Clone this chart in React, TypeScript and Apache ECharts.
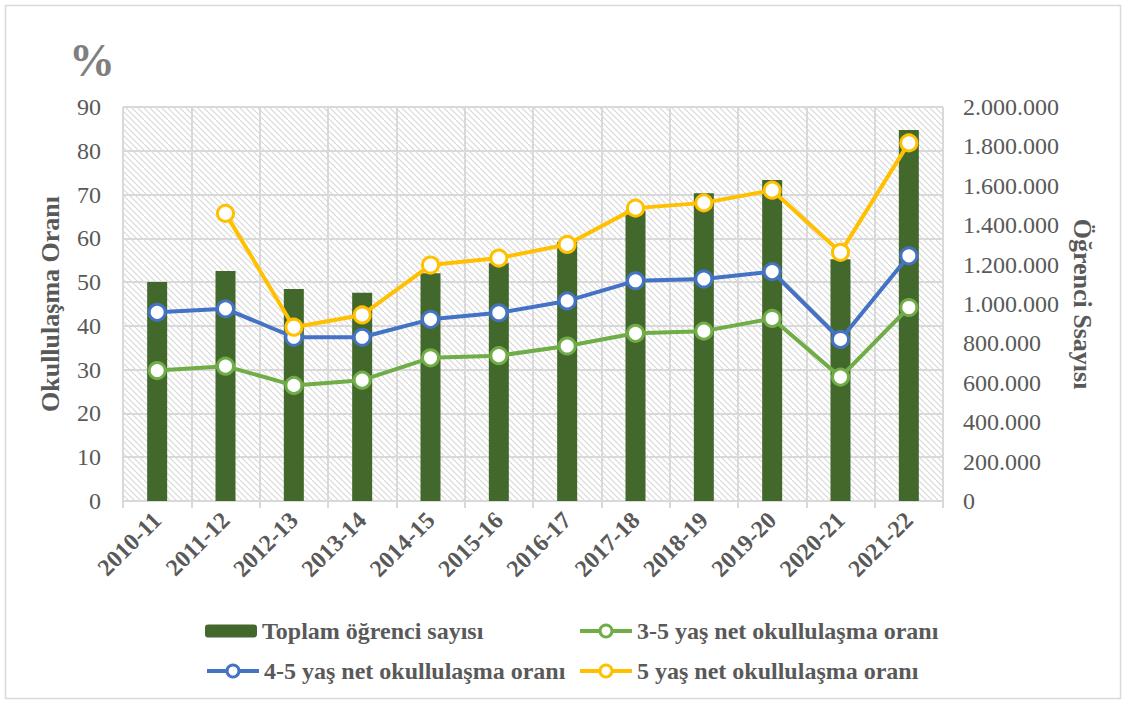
import React, { useEffect, useRef } from "react";
import * as echarts from "echarts";

const categories = ["2010-11", "2011-12", "2012-13", "2013-14", "2014-15", "2015-16", "2016-17", "2017-18", "2018-19", "2019-20", "2020-21", "2021-22"];
const toplamOgrenci = [1112000, 1168000, 1076000, 1057000, 1156000, 1207000, 1316000, 1475000, 1562000, 1629000, 1227000, 1883000];
const oran35 = [29.8, 30.8, 26.4, 27.6, 32.7, 33.2, 35.4, 38.3, 38.8, 41.7, 28.3, 44.2];
const oran45 = [43.1, 43.9, 37.4, 37.4, 41.5, 43.0, 45.7, 50.3, 50.7, 52.4, 36.9, 56.0];
const oran5: (number | null)[] = [null, 65.7, 39.7, 42.5, 53.9, 55.5, 58.6, 66.9, 68.1, 71.0, 56.8, 81.8];

const leftTicks = { min: 0, max: 90, interval: 10 };
const rightTicks = { min: 0, max: 2000000, interval: 200000 };

const SERIF = "'Liberation Serif', 'Times New Roman', serif";
const GREY = "#595959";
const GRID = "#d9d9d9";

function makePattern() {
  const s = 6;
  const c = document.createElement("canvas");
  c.width = s;
  c.height = s;
  const ctx = c.getContext("2d")!;
  ctx.fillStyle = "#ffffff";
  ctx.fillRect(0, 0, s, s);
  ctx.strokeStyle = "#d6d6d6";
  ctx.lineWidth = 1.1;
  for (const o of [-s, 0, s]) {
    ctx.beginPath();
    ctx.moveTo(o, 0);
    ctx.lineTo(o + s, s);
    ctx.stroke();
  }
  return c;
}

function fmtDots(v: number) {
  return String(Math.round(v)).replace(/\B(?=(\d{3})+(?!\d))/g, ".");
}

export default function App() {
  const ref = useRef<HTMLDivElement>(null);
  useEffect(() => {
    document.body.style.margin = "0";
    const chart = echarts.init(ref.current!, undefined, { renderer: "svg" });
    const lineSeries = (name: string, data: (number | null)[], color: string) => ({
      name,
      type: "line",
      yAxisIndex: 0,
      data,
      color,
      symbol: "circle",
      symbolSize: 16,
      showAllSymbol: true,
      lineStyle: { color, width: 4 },
      itemStyle: { color: "#ffffff", borderColor: color, borderWidth: 3 },
      z: 3,
    });
    const legendText = { fontFamily: SERIF, fontWeight: "bold" as const, fontSize: 24, color: GREY };
    const legend = (name: string, left: number, top: number, h: number, isLine: boolean) => ({
      data: [name],
      left,
      top,
      itemWidth: 52,
      itemHeight: h,
      itemGap: 0,
      selectedMode: false,
      textStyle: legendText,
      ...(isLine
        ? { lineStyle: { width: 4 }, itemStyle: { borderWidth: 3 } }
        : {}),
    });
    const option = {
      animation: false,
      backgroundColor: "#ffffff",
      grid: {
        left: 123,
        right: 183,
        top: 107,
        bottom: 203,
        show: true,
        borderWidth: 0,
        backgroundColor: { image: makePattern(), repeat: "repeat" },
      },
      legend: [
        legend("Toplam öğrenci sayısı", 200, 614, 13, false),
        legend("3-5 yaş net okullulaşma oranı", 573, 614, 15, true),
        legend("4-5 yaş net okullulaşma oranı", 200, 654, 15, true),
        legend("5 yaş net okullulaşma oranı", 573, 654, 15, true),
      ],
      graphic: [
        {
          type: "rect",
          shape: { x: 5.5, y: 5.5, width: 1115, height: 693 },
          style: { fill: "none", stroke: GRID, lineWidth: 1.5 },
          silent: true,
        },
        {
          type: "text",
          left: 69,
          top: 37,
          style: { text: "%", font: `bold 46px ${SERIF}`, fill: "#7f7f7f" },
        },
      ],
      xAxis: {
        type: "category",
        data: categories,
        boundaryGap: true,
        axisLine: { lineStyle: { color: GRID, width: 2 } },
        axisTick: { show: true, length: 7, lineStyle: { color: GRID, width: 2 } },
        splitLine: { show: true, lineStyle: { color: GRID, width: 2 } },
        axisLabel: {
          rotate: 45,
          margin: 15,
          fontFamily: SERIF,
          fontWeight: "bold",
          fontSize: 24,
          color: GREY,
          interval: 0,
        },
      },
      yAxis: [
        {
          type: "value",
          ...leftTicks,
          name: "Okullulaşma Oranı",
          nameLocation: "middle",
          nameGap: 60,
          nameTextStyle: { fontFamily: SERIF, fontWeight: "bold", fontSize: 26, color: GREY },
          axisLine: { show: false },
          axisTick: { show: false },
          splitLine: { show: true, lineStyle: { color: GRID, width: 2 } },
          axisLabel: { fontFamily: SERIF, fontSize: 24, color: GREY, margin: 22 },
        },
        {
          type: "value",
          ...rightTicks,
          position: "right",
          name: "Öğrenci Ssayısı",
          nameLocation: "middle",
          nameRotate: -90,
          nameGap: 123,
          nameTextStyle: { fontFamily: SERIF, fontWeight: "bold", fontSize: 26, color: GREY },
          axisLine: { show: false },
          axisTick: { show: false },
          splitLine: { show: false },
          axisLabel: { fontFamily: SERIF, fontSize: 24, color: GREY, margin: 20, formatter: fmtDots },
        },
      ],
      series: [
        {
          name: "Toplam öğrenci sayısı",
          type: "bar",
          yAxisIndex: 1,
          data: toplamOgrenci,
          barWidth: 20,
          itemStyle: { color: "#43682b" },
          z: 2,
        },
        lineSeries("3-5 yaş net okullulaşma oranı", oran35, "#70ad47"),
        lineSeries("4-5 yaş net okullulaşma oranı", oran45, "#4472c4"),
        lineSeries("5 yaş net okullulaşma oranı", oran5, "#ffc000"),
      ],
    };
    chart.setOption(option as any);
    return () => chart.dispose();
  }, []);
  return <div ref={ref} style={{ width: 1126, height: 704 }} />;
}
